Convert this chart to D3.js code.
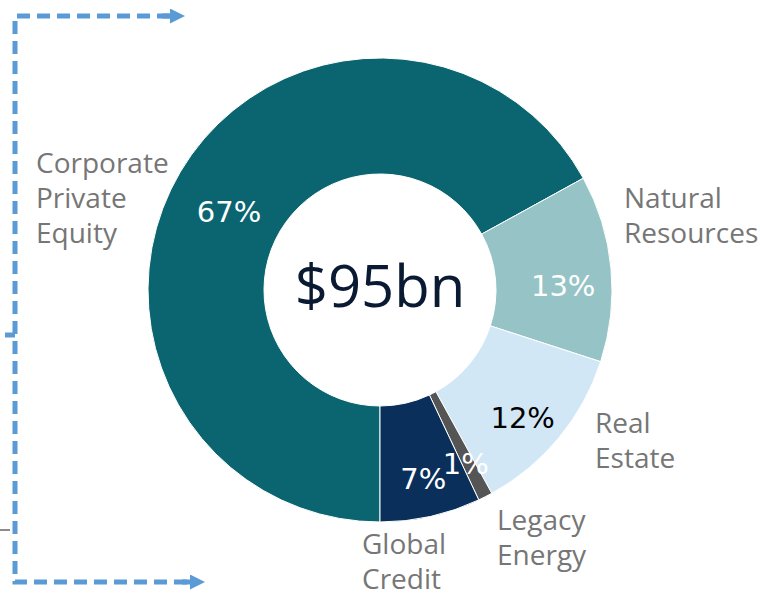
<!DOCTYPE html>
<html>
<head>
<meta charset="utf-8">
<script src="https://cdn.jsdelivr.net/npm/d3@7"></script>
<style>
  body { margin: 0; background: #fff; }
  svg { display: block; }
</style>
</head>
<body>
<div id="chart"></div>
<script>
// data
var categories = ["Corporate Private Equity", "Natural Resources", "Real Estate", "Legacy Energy", "Global Credit"];
var shares = [67, 13, 12, 1, 7];
var labelLines = [["Corporate", "Private", "Equity"], ["Natural", "Resources"], ["Real", "Estate"], ["Legacy", "Energy"], ["Global", "Credit"]];
var totalLabel = "$95bn";

var colors = ["#0b6570", "#96c4c6", "#d2e7f6", "#555555", "#0a2f5a"];
var pctColors = ["#fff", "#fff", "#000", "#fff", "#fff"];

// where each category name sits (left x, first baseline)
var labelPos = [[36, 173], [624, 208], [595, 433], [497, 530], [362, 554]];

var config = { width: 760, height: 593, cx: 380, cy: 290, outer: 232, inner: 116 };

var svg = d3.select("#chart").append("svg")
    .attr("width", config.width)
    .attr("height", config.height);

var translate = (x, y) => "translate(" + x + "," + y + ")";

// dashed bracket on the left
var blue = "#5b9bd5";
var defs = svg.append("defs");
defs.append("marker")
    .attr("id", "arrow")
    .attr("viewBox", "0 0 10 10")
    .attr("refX", 0).attr("refY", 5)
    .attr("markerWidth", 3).attr("markerHeight", 3)
    .attr("markerUnits", "strokeWidth")
    .attr("orient", "auto")
    .append("path")
    .attr("d", "M0,0L10,5L0,10Z")
    .attr("fill", blue);

var bracket = svg.append("g").attr("fill", "none").attr("stroke", blue).attr("stroke-width", 5);
bracket.append("path")
    .attr("d", "M170,16H15V582H190")
    .attr("stroke-dasharray", "13,7");
bracket.append("line").attr("x1", 162).attr("x2", 170).attr("y1", 16).attr("y2", 16)
    .attr("marker-end", "url(#arrow)");
bracket.append("line").attr("x1", 182).attr("x2", 190).attr("y1", 582).attr("y2", 582)
    .attr("marker-end", "url(#arrow)");
bracket.append("line").attr("x1", 5).attr("x2", 15).attr("y1", 335).attr("y2", 335);
svg.append("line").attr("x1", 0).attr("x2", 10).attr("y1", 530).attr("y2", 530)
    .attr("stroke", "#666").attr("stroke-width", 1.5);

// donut
var pie = d3.pie().sort(null).startAngle(Math.PI).endAngle(3 * Math.PI);
var arcs = pie(shares);
var arc = d3.arc().innerRadius(config.inner).outerRadius(config.outer);
var labelArc = d3.arc().innerRadius(180).outerRadius(180);

var g = svg.append("g").attr("transform", translate(config.cx, config.cy));

g.selectAll("path.slice")
    .data(arcs)
    .enter().append("path")
    .attr("class", "slice")
    .attr("d", arc)
    .attr("fill", (d, i) => colors[i])
    .attr("stroke", "#fff")
    .attr("stroke-width", 1);

g.selectAll("text.pct")
    .data(arcs)
    .enter().append("text")
    .attr("class", "pct")
    .attr("x", d => labelArc.centroid(d)[0] + 4)
    .attr("y", d => labelArc.centroid(d)[1])
    .attr("dy", "0.8em")
    .attr("text-anchor", "middle")
    .attr("font-family", "DejaVu Sans, sans-serif")
    .attr("font-size", "29px")
    .attr("fill", (d, i) => pctColors[i])
    .text((d, i) => shares[i] + "%");

g.append("text")
    .attr("text-anchor", "middle")
    .attr("y", 17)
    .attr("font-family", "Open Sans, sans-serif")
    .attr("font-size", "58px")
    .attr("fill", "#0b1a33")
    .text(totalLabel);

// category names
var names = svg.selectAll("text.name")
    .data(categories)
    .enter().append("text")
    .attr("class", "name")
    .attr("font-family", "Open Sans, sans-serif")
    .attr("font-size", "28px")
    .attr("fill", "#767676")
    .attr("transform", (d, i) => translate(labelPos[i][0], labelPos[i][1]));

names.selectAll("tspan")
    .data((d, i) => labelLines[i])
    .enter().append("tspan")
    .attr("x", 0)
    .attr("y", (d, j) => j * 35)
    .text(d => d);
</script>
</body>
</html>
